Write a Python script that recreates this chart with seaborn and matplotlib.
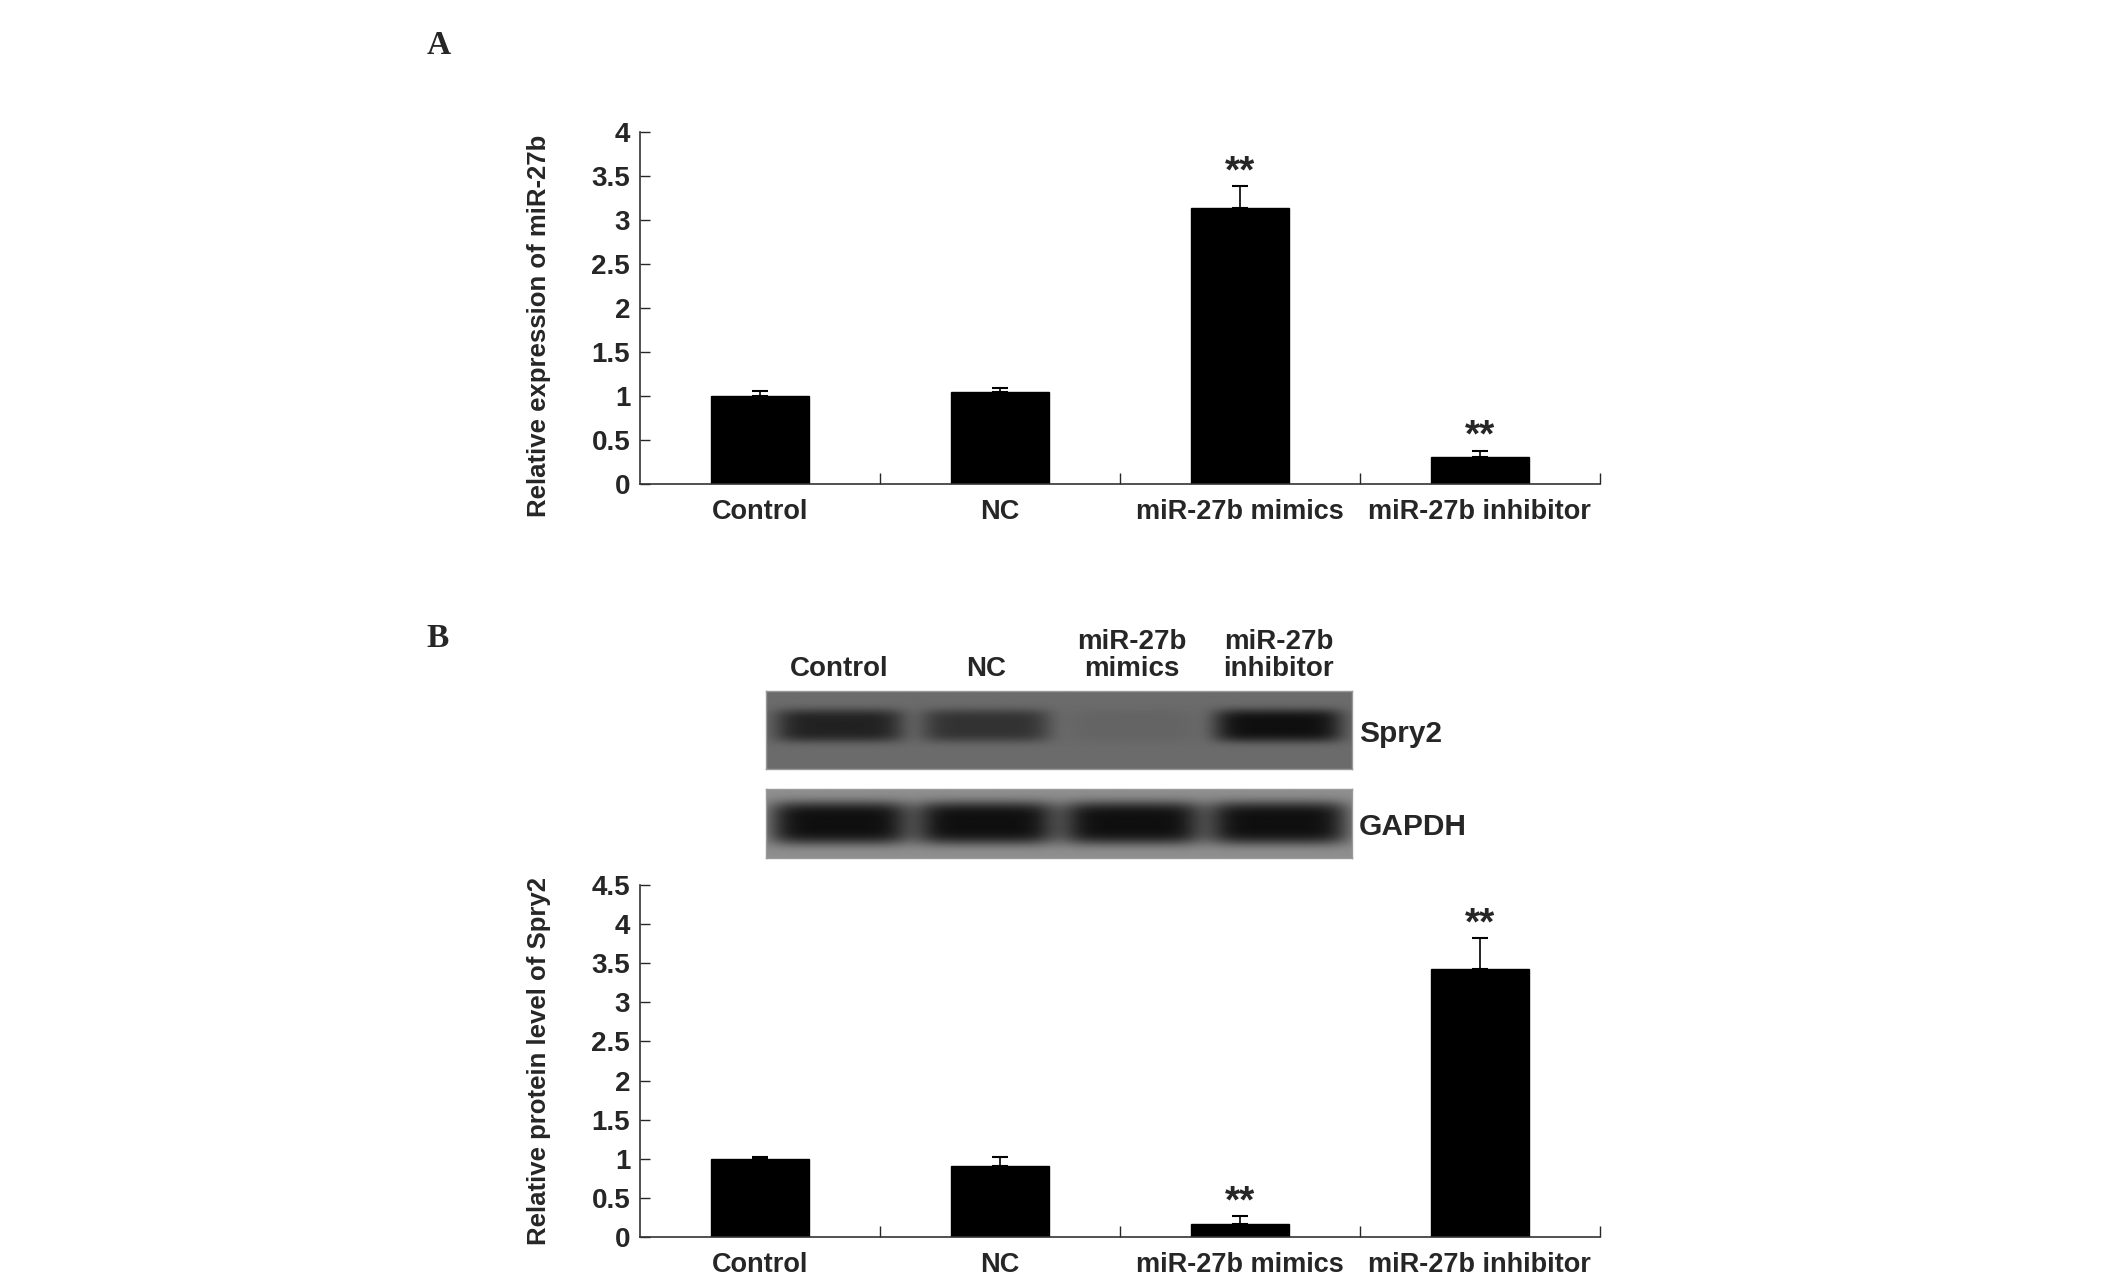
import numpy as np
import pandas as pd
import matplotlib
matplotlib.use("Agg")
import matplotlib.pyplot as plt
import seaborn as sns

groups = ["Control", "NC", "miR-27b mimics", "miR-27b inhibitor"]
mir_expr = [1.00, 1.04, 3.13, 0.31]
mir_err = [0.06, 0.05, 0.25, 0.07]
mir_sig = ["", "", "**", "**"]
spry_level = [1.00, 0.91, 0.16, 3.43]
spry_err = [0.02, 0.11, 0.11, 0.39]
spry_sig = ["", "", "**", "**"]

lane_labels = ["Control", "NC", "miR-27b\nmimics", "miR-27b\ninhibitor"]
spry_band = [0.80, 0.62, 0.08, 1.0]   # band darkness, read from blot
gapdh_band = [1.0, 1.0, 1.0, 1.0]

sns.set_style("white")
plt.rcParams["font.family"] = ["Liberation Sans", "DejaVu Sans"]
plt.rcParams["font.weight"] = "bold"


def bar_panel(ax, values, errs, sig, ylabel, ymax, yticks, label_y):
    df = pd.DataFrame({"group": groups, "value": values})
    sns.barplot(data=df, x="group", y="value", color="black", width=0.41,
                saturation=1, ax=ax, errorbar=None)
    for p in ax.patches:
        p.set_edgecolor("black")
    x = np.arange(len(groups))
    ax.errorbar(x, values, yerr=[np.zeros(len(errs)), errs], fmt="none",
                ecolor="black", elinewidth=1.2, capsize=6, capthick=1.5)
    for xi, v, e, s in zip(x, values, errs, sig):
        if s:
            ax.text(xi, v + e - ymax * 0.012, s, ha="center", va="bottom",
                    fontsize=28, fontweight="bold")
    ax.set_xlim(-0.5, 3.5)
    ax.set_ylim(0, ymax)
    ax.set_yticks(yticks)
    ax.set_yticklabels([f"{t:g}" for t in yticks], fontsize=20, fontweight="bold")
    ax.set_xticks(x)
    ax.set_xticklabels(groups, fontsize=19.5, fontweight="bold")
    ax.set_xticks([0.5, 1.5, 2.5, 3.5], minor=True)
    ax.tick_params(axis="x", which="major", length=0, pad=11)
    ax.tick_params(axis="x", which="minor", direction="in", length=8, width=1, bottom=True)
    ax.tick_params(axis="y", direction="in", length=7, width=1, left=True, pad=7)
    ax.set_xlabel("")
    ax.set_ylabel(ylabel, fontsize=18.5, fontweight="bold")
    ax.yaxis.set_label_coords(-0.093, label_y)
    for side in ["top", "right"]:
        ax.spines[side].set_visible(False)
    for side in ["left", "bottom"]:
        ax.spines[side].set_color("#333333")
        ax.spines[side].set_linewidth(1.2)


def blot_image(levels, bg, width_frac, height_frac, yc):
    nx, ny = 600, 90
    xx = np.linspace(0, 4, nx)
    yy = np.linspace(-1, 1, ny)
    X, Y = np.meshgrid(xx, yy)
    img = np.full((ny, nx), bg)
    for i, lv in enumerate(levels):
        cx = i + 0.5
        prof_x = np.exp(-np.abs((X - cx) / width_frac) ** 6)
        prof_y = np.exp(-np.abs((Y - yc) / height_frac) ** 4)
        img = img - lv * (bg - 0.06) * prof_x * prof_y
    return np.clip(img, 0, 1)


fig = plt.figure(figsize=(21.26, 12.88), dpi=100)

ax1 = fig.add_axes([0.301, 0.6242, 0.4515, 0.2737])
bar_panel(ax1, mir_expr, mir_err, mir_sig, "Relative expression of miR-27b",
          4, [0, 0.5, 1, 1.5, 2, 2.5, 3, 3.5, 4], 0.45)

ax2 = fig.add_axes([0.301, 0.0396, 0.4515, 0.2733])
bar_panel(ax2, spry_level, spry_err, spry_sig, "Relative protein level of Spry2",
          4.5, [0, 0.5, 1, 1.5, 2, 2.5, 3, 3.5, 4, 4.5], 0.5)

# western blot strips
axs = fig.add_axes([0.3603, 0.4030, 0.2756, 0.0606])
axs.imshow(blot_image(spry_band, 0.42, 0.44, 0.42, -0.1), cmap="gray", vmin=0, vmax=1,
           aspect="auto", extent=(0, 4, 0, 1))
axg = fig.add_axes([0.3603, 0.3339, 0.2756, 0.0536])
axg.imshow(blot_image(gapdh_band, 0.56, 0.48, 0.62, 0.0), cmap="gray", vmin=0, vmax=1,
           aspect="auto", extent=(0, 4, 0, 1))
for a in (axs, axg):
    a.set_xticks([])
    a.set_yticks([])
    for s in a.spines.values():
        s.set_color("#999999")
        s.set_linewidth(1)

for i, lab in enumerate(lane_labels):
    axs.text(i + 0.5, 1.12, lab, transform=axs.transData, ha="center", va="bottom",
             fontsize=20, fontweight="bold", linespacing=1.05)
axs.text(4.05, 0.45, "Spry2", ha="left", va="center", fontsize=21.5, fontweight="bold")
axg.text(4.05, 0.45, "GAPDH", ha="left", va="center", fontsize=21.5, fontweight="bold")

fig.text(0.2005, 0.965, "A", fontsize=24, fontweight="bold", family="Liberation Serif",
         ha="left", va="center")
fig.text(0.2005, 0.504, "B", fontsize=24, fontweight="bold", family="Liberation Serif",
         ha="left", va="center")

fig.savefig("out.png", dpi=100, facecolor="white")
